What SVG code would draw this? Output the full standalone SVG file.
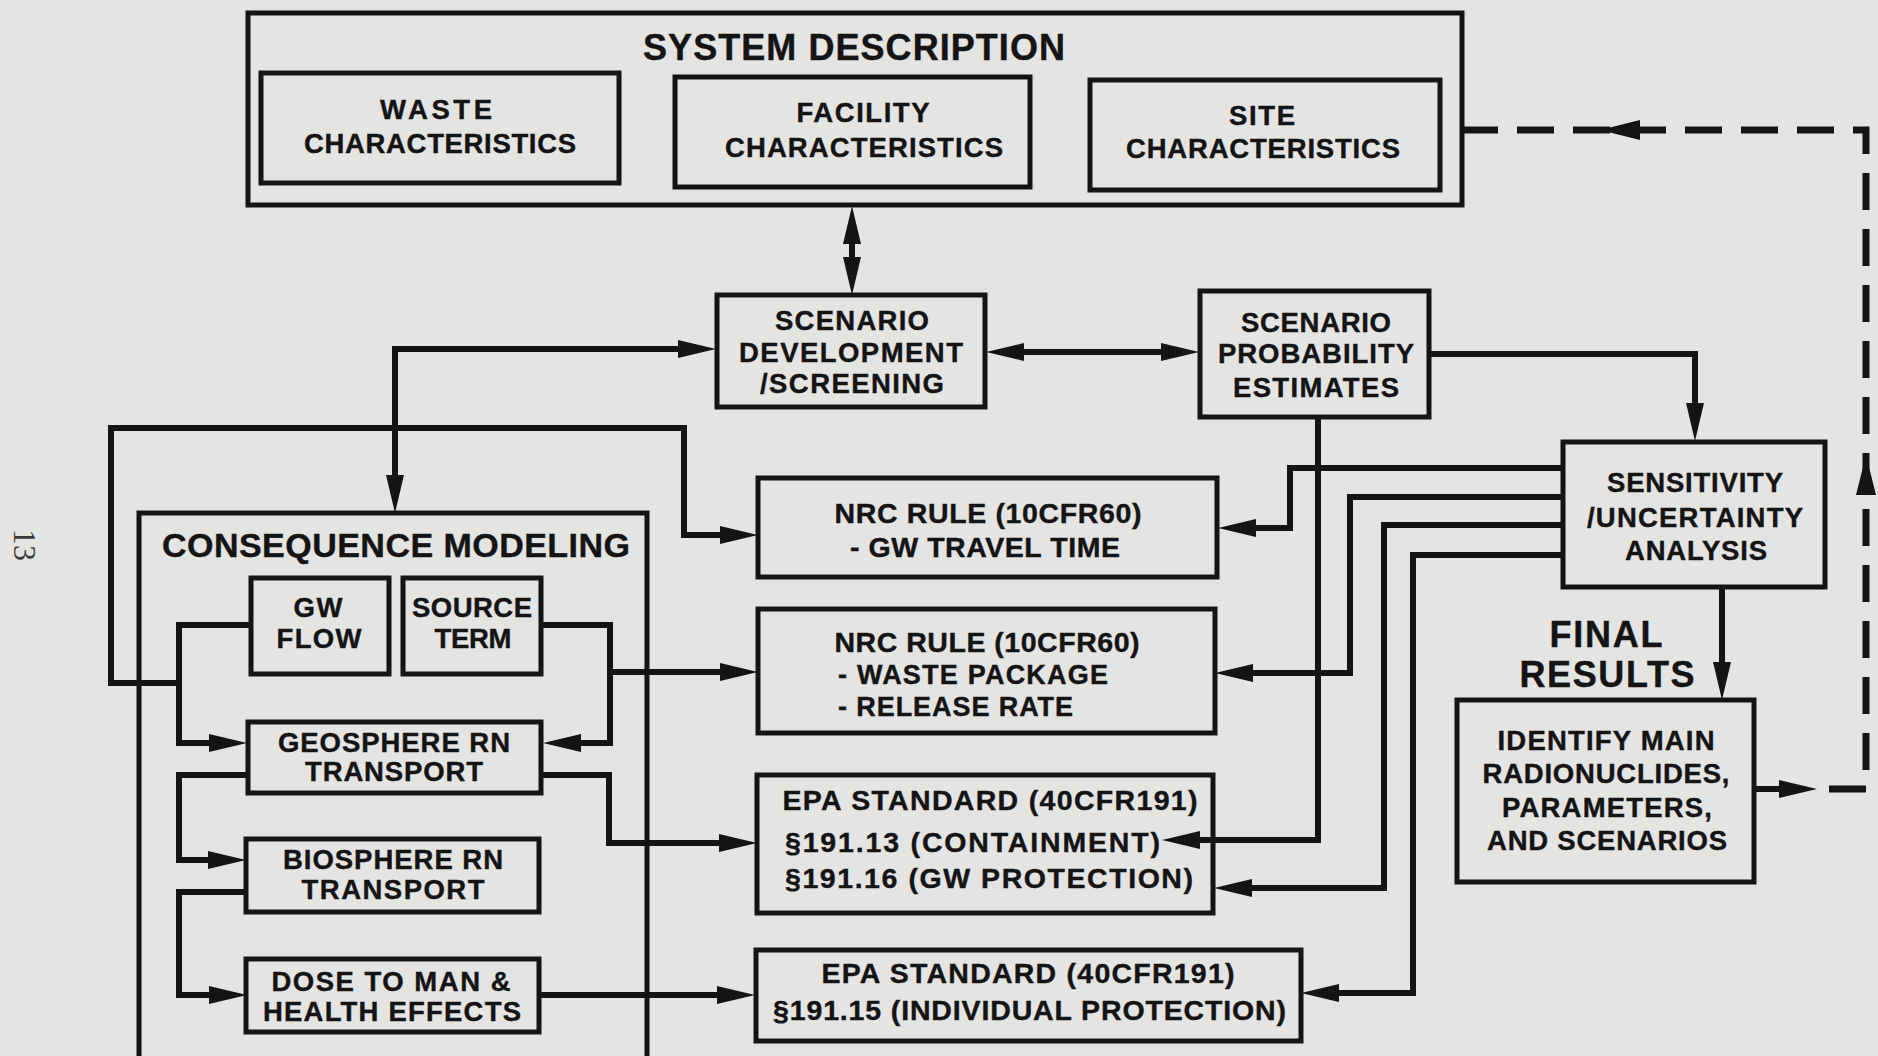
<svg xmlns="http://www.w3.org/2000/svg" width="1878" height="1056" viewBox="0 0 1878 1056">
<style>
.bx{fill:none;stroke:#141414;stroke-width:5}
.c{fill:none;stroke:#141414;stroke-width:6;marker-end:url(#ah)}
.c2{fill:none;stroke:#141414;stroke-width:6;marker-start:url(#ah);marker-end:url(#ah)}
.dash{fill:none;stroke:#141414;stroke-width:7;stroke-dasharray:37 19}
.ahp{fill:#141414}
text{font-family:"Liberation Sans",Arial,sans-serif;font-weight:bold;fill:#141414;stroke:#141414;stroke-width:0.4}
.tl{font-size:36px;text-anchor:middle}
.tl2{font-size:34px;text-anchor:middle}
.tm{font-size:27.5px;text-anchor:middle}
.tr{font-size:28.5px}
.ts{font-size:27px}
.tc{text-anchor:middle}
.pg{font-family:"Liberation Serif","Times New Roman",serif;font-weight:normal;font-size:32px;fill:#3c3c3c;stroke:none;text-anchor:middle}
</style>
<defs>
<marker id="ah" markerUnits="userSpaceOnUse" markerWidth="38" markerHeight="20" viewBox="0 0 38 20" refX="26" refY="10" orient="auto-start-reverse">
<path d="M0,1 L38,10 L0,19 z" fill="#141414"/>
</marker>
</defs>
<rect x="0" y="0" width="1878" height="1056" fill="#e4e4e3"/>

<text class="pg" transform="translate(24,545) rotate(90)" x="0" y="10">13</text>

<g id="system-description">
<rect class="bx" x="248" y="13" width="1214" height="192"/>
<text class="tl" x="854" y="60" textLength="422">SYSTEM DESCRIPTION</text>
</g>
<g id="waste">
<rect class="bx" x="261" y="73" width="358" height="110"/>
<text class="tm" x="436" y="119" textLength="112">WASTE</text>
<text class="tm" x="440" y="153" textLength="272">CHARACTERISTICS</text>
</g>
<g id="facility">
<rect class="bx" x="675" y="77" width="355" height="110"/>
<text class="tm" x="863" y="122" textLength="133">FACILITY</text>
<text class="tm" x="864" y="157" textLength="278">CHARACTERISTICS</text>
</g>
<g id="site">
<rect class="bx" x="1090" y="80" width="350" height="110"/>
<text class="tm" x="1262" y="125" textLength="66">SITE</text>
<text class="tm" x="1263" y="158" textLength="274">CHARACTERISTICS</text>
</g>
<g id="scenario-development">
<rect class="bx" x="717" y="295" width="268" height="112"/>
<text class="tm" x="852" y="330" textLength="154">SCENARIO</text>
<text class="tm" x="851" y="362" textLength="224">DEVELOPMENT</text>
<text class="tm" x="852" y="393" textLength="184">/SCREENING</text>
</g>
<g id="scenario-probability">
<rect class="bx" x="1200" y="291" width="229" height="126"/>
<text class="tm" x="1316" y="332" textLength="150">SCENARIO</text>
<text class="tm" x="1316" y="363" textLength="196">PROBABILITY</text>
<text class="tm" x="1316" y="397" textLength="166">ESTIMATES</text>
</g>
<g id="sensitivity">
<rect class="bx" x="1563" y="442" width="262" height="145"/>
<text class="tm" x="1695" y="492" textLength="176">SENSITIVITY</text>
<text class="tm" x="1695" y="527" textLength="216">/UNCERTAINTY</text>
<text class="tm" x="1696" y="560" textLength="142">ANALYSIS</text>
</g>
<g id="final-results">
<text class="tl" x="1606" y="647" textLength="113">FINAL</text>
<text class="tl" x="1607" y="687" textLength="175">RESULTS</text>
<rect class="bx" x="1457" y="700" width="297" height="182"/>
<text class="tm" x="1606" y="750" textLength="217">IDENTIFY MAIN</text>
<text class="tm" x="1606" y="783" textLength="247">RADIONUCLIDES,</text>
<text class="tm" x="1607" y="817" textLength="210">PARAMETERS,</text>
<text class="tm" x="1607" y="850" textLength="240">AND SCENARIOS</text>
</g>
<g id="consequence-modeling">
<rect class="bx" x="139" y="513" width="508" height="570"/>
<text class="tl2" x="396" y="557" textLength="468">CONSEQUENCE MODELING</text>
</g>
<g id="gw-flow">
<rect class="bx" x="251" y="578" width="138" height="96"/>
<text class="tm" x="318" y="617" textLength="49">GW</text>
<text class="tm" x="319" y="648" textLength="85">FLOW</text>
</g>
<g id="source-term">
<rect class="bx" x="403" y="578" width="138" height="96"/>
<text class="tm" x="472" y="617" textLength="120">SOURCE</text>
<text class="tm" x="473" y="648" textLength="77">TERM</text>
</g>
<g id="geosphere">
<rect class="bx" x="248" y="722" width="293" height="71"/>
<text class="tm" x="394" y="752" textLength="232">GEOSPHERE RN</text>
<text class="tm" x="394" y="781" textLength="178">TRANSPORT</text>
</g>
<g id="biosphere">
<rect class="bx" x="246" y="839" width="293" height="73"/>
<text class="tm" x="393" y="869" textLength="220">BIOSPHERE RN</text>
<text class="tm" x="393" y="899" textLength="183">TRANSPORT</text>
</g>
<g id="dose">
<rect class="bx" x="246" y="959" width="293" height="73"/>
<text class="tm" x="391" y="991" textLength="239">DOSE TO MAN &amp;</text>
<text class="tm" x="392" y="1021" textLength="258">HEALTH EFFECTS</text>
</g>
<g id="nrc-gw-travel">
<rect class="bx" x="758" y="478" width="459" height="99"/>
<text class="tr tc" x="988" y="523" textLength="307">NRC RULE (10CFR60)</text>
<text class="tr tc" x="985" y="557" textLength="270">- GW TRAVEL TIME</text>
</g>
<g id="nrc-waste-package">
<rect class="bx" x="758" y="609" width="457" height="124"/>
<text class="tr tc" x="987" y="652" textLength="305">NRC RULE (10CFR60)</text>
<text class="ts" x="838" y="684" textLength="270">- WASTE PACKAGE</text>
<text class="ts" x="838" y="716" textLength="235">- RELEASE RATE</text>
</g>
<g id="epa-containment">
<rect class="bx" x="757" y="775" width="456" height="138"/>
<text class="tr tc" x="990" y="810" textLength="415">EPA STANDARD (40CFR191)</text>
<text class="tr" x="785" y="852" textLength="375">§191.13 (CONTAINMENT)</text>
<text class="tr" x="785" y="888" textLength="408">§191.16 (GW PROTECTION)</text>
</g>
<g id="epa-individual">
<rect class="bx" x="756" y="950" width="545" height="91"/>
<text class="tr tc" x="1028" y="983" textLength="413">EPA STANDARD (40CFR191)</text>
<text class="tr" x="773" y="1020" textLength="513">§191.15 (INDIVIDUAL PROTECTION)</text>
</g>

<g id="connectors">
<path class="c2" d="M852 218 V283"/>
<path class="c2" d="M998 352 H1187"/>
<path class="c2" d="M704 349 H395 V501"/>
<path class="c" d="M1428 354 H1695 V429"/>
<path class="c" d="M1722 587 V688"/>
<path class="c" d="M1754 789 H1805"/>
<path class="dash" d="M1829 789 H1866 V130 H1463"/>
<polygon class="ahp" points="1600,130 1640,120 1640,140"/>
<polygon class="ahp" points="1866,455 1856,495 1876,495"/>
<path class="c" d="M252 625 H179 V743 H235"/>
<path class="c" d="M179 683 H111 V428 H684 V535 H746"/>
<path class="c" d="M541 625 H610 V743 H555"/>
<path class="c" d="M610 672 H746"/>
<path class="c" d="M248 775 H179 V860 H234"/>
<path class="c" d="M540 775 H609 V843 H745"/>
<path class="c" d="M246 892 H179 V995 H235"/>
<path class="c" d="M539 995 H743"/>
<path class="c" d="M1563 468 H1290 V528 H1230"/>
<path class="c" d="M1563 497 H1350 V673 H1227"/>
<path class="c" d="M1563 525 H1384 V888 H1226"/>
<path class="c" d="M1563 555 H1413 V993 H1313"/>
<path class="c" d="M1318 417 V840 H1174"/>
</g>
</svg>
